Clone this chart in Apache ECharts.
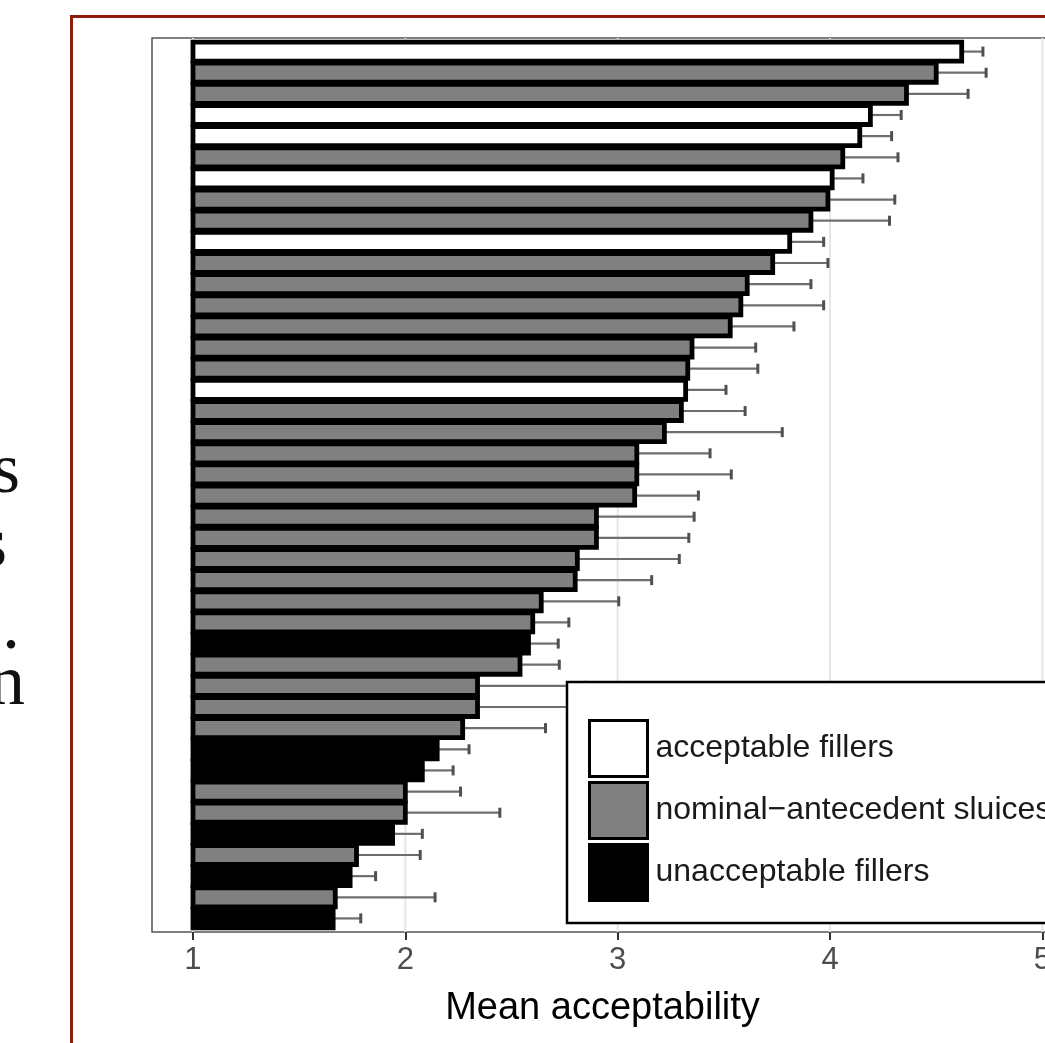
<!DOCTYPE html>
<html>
<head>
    <meta charset="utf-8">
    <title>Mean acceptability</title>
    <script src="https://cdn.jsdelivr.net/npm/echarts@6/dist/echarts.min.js"></script>
    <style>
        html, body { margin: 0; padding: 0; background: #fff; overflow: hidden; }
        #main { width: 1100px; height: 1043px; }
    </style>
</head>
<body>
<div id="main"></div>
<script type="text/javascript">
    // items, top to bottom
    var categories = ['1','2','3','4','5','6','7','8','9','10','11','12','13','14','15','16','17','18','19','20','21',
        '22','23','24','25','26','27','28','29','30','31','32','33','34','35','36','37','38','39','40','41','42'];
    // mean acceptability of each item
    var means = [4.62, 4.50, 4.36, 4.19, 4.14, 4.06, 4.01, 3.99, 3.91, 3.81, 3.73, 3.61, 3.58, 3.53, 3.35, 3.33,
        3.32, 3.30, 3.22, 3.09, 3.09, 3.08, 2.90, 2.90, 2.81, 2.80, 2.64, 2.60, 2.58, 2.54, 2.34, 2.34, 2.27, 2.15,
        2.08, 2.00, 2.00, 1.94, 1.77, 1.74, 1.67, 1.66];
    // end of the upper error bar
    var upper = [4.72, 4.735, 4.65, 4.335, 4.29, 4.32, 4.155, 4.305, 4.28, 3.97, 3.99, 3.91, 3.97, 3.83, 3.65, 3.66,
        3.51, 3.60, 3.775, 3.435, 3.535, 3.38, 3.36, 3.335, 3.29, 3.16, 3.005, 2.77, 2.72, 2.725, 2.85, 2.80, 2.66,
        2.30, 2.225, 2.26, 2.445, 2.08, 2.07, 1.86, 2.14, 1.79];
    // A = acceptable filler, N = nominal-antecedent sluice, U = unacceptable filler
    var groups = ['A','N','N','A','A','N','A','N','N','A','N','N','N','N','N','N','A','N','N','N','N',
        'N','N','N','N','N','N','N','U','N','N','N','N','U','U','N','N','U','N','U','N','U'];
    var groupKeys = ['A', 'N', 'U'];
    var groupNames = ['acceptable fillers', 'nominal\u2212antecedent sluices', 'unacceptable fillers'];
    var groupFills = ['#ffffff', '#808080', '#000000'];
    var xTicks = [1, 2, 3, 4, 5];

    var sans = '"Liberation Sans", Arial, Helvetica, sans-serif';
    var serif = '72px "Liberation Serif", "DejaVu Serif", serif';
    var myChart = echarts.init(document.getElementById('main'));

    function renderBar(params, api) {
        var cat = api.value(1);
        var p0 = api.coord([1, cat]);
        var p1 = api.coord([api.value(0), cat]);
        var h = api.size([0, 1])[1] * 0.9;
        return {
            type: 'rect',
            shape: {x: p0[0], y: p0[1] - h / 2, width: p1[0] - p0[0], height: h},
            style: {fill: api.visual('color'), stroke: '#000', lineWidth: 4.8}
        };
    }

    function renderErr(params, api) {
        var cat = api.value(1);
        var a = api.coord([api.value(0), cat]);
        var b = api.coord([api.value(2), cat]);
        return {
            type: 'group',
            children: [
                {type: 'line', shape: {x1: a[0], y1: a[1], x2: b[0], y2: b[1]},
                    style: {stroke: '#6e6e6e', lineWidth: 2.2}},
                {type: 'line', shape: {x1: b[0], y1: b[1] - 5, x2: b[0], y2: b[1] + 5},
                    style: {stroke: '#505050', lineWidth: 3}}
            ]
        };
    }

    // vertical grid lines, running the whole panel height
    function renderGridLine(params, api) {
        var p = api.coord([api.value(0), api.value(1)]);
        var cs = params.coordSys;
        return {
            type: 'line',
            shape: {x1: p[0], y1: cs.y - 3, x2: p[0], y2: cs.y + cs.height + 3},
            style: {stroke: '#e6e6e6', lineWidth: 2}
        };
    }

    var series = [{
        type: 'custom',
        name: 'grid',
        z: 1,
        silent: true,
        clip: false,
        renderItem: renderGridLine,
        data: xTicks.map(function (v) { return [v, categories[0]]; })
    }, {
        type: 'custom',
        name: 'err',
        z: 2,
        silent: true,
        renderItem: renderErr,
        encode: {x: [0, 2], y: 1},
        data: means.map(function (m, i) { return [m, categories[i], upper[i]]; })
    }];

    groupKeys.forEach(function (g, k) {
        var data = [];
        for (var i = 0; i < means.length; i++) {
            if (groups[i] === g) data.push([means[i], categories[i]]);
        }
        series.push({
            type: 'custom',
            name: groupNames[k],
            z: 3,
            renderItem: renderBar,
            itemStyle: {color: groupFills[k], borderColor: '#000', borderWidth: 3},
            encode: {x: 0, y: 1},
            data: data
        });
    });

    var option = {
        animation: false,
        backgroundColor: '#fff',
        grid: {
            left: 152, top: 41, width: 901, height: 888,
            show: false
        },
        xAxis: {
            type: 'value',
            min: 0.807,
            max: 5.05,
            offset: 3,
            name: 'Mean acceptability',
            nameLocation: 'middle',
            nameGap: 58,
            nameTextStyle: {fontFamily: sans, fontSize: 38, color: '#000'},
            axisLine: {show: false},
            splitLine: {show: false},
            axisTick: {show: true, customValues: xTicks, length: 8, lineStyle: {color: '#333', width: 2}},
            axisLabel: {customValues: xTicks, fontFamily: sans, fontSize: 31, color: '#4d4d4d', margin: 13}
        },
        yAxis: {
            type: 'category',
            data: categories,
            inverse: true,
            axisLine: {show: false},
            axisTick: {show: false},
            axisLabel: {show: false},
            splitLine: {show: false}
        },
        legend: {
            orient: 'vertical',
            left: 567,
            top: 682,
            padding: [37, 40, 21, 21],
            itemWidth: 58,
            itemHeight: 56,
            itemGap: 3,
            icon: 'rect',
            selectedMode: false,
            borderColor: '#000',
            borderWidth: 2.5,
            backgroundColor: '#fff',
            itemStyle: {borderColor: '#000', borderWidth: 3},
            textStyle: {fontFamily: sans, fontSize: 32, color: '#1a1a1a', padding: [0, 0, 0, 3]},
            data: groupNames
        },
        graphic: [
            // panel border
            {type: 'rect', z: 0, shape: {x: 152, y: 38, width: 901, height: 894},
                style: {fill: 'none', stroke: '#555', lineWidth: 1.5}},
            // frame of the page around the figure
            {type: 'line', shape: {x1: 71.5, y1: 16.5, x2: 71.5, y2: 1043}, style: {stroke: '#8c1d0c', lineWidth: 3}},
            {type: 'line', shape: {x1: 70, y1: 16.5, x2: 1100, y2: 16.5}, style: {stroke: '#8c1d0c', lineWidth: 3}},
            // cut-off ends of the text lines beside the figure
            {type: 'text', x: -8, y: 509, style: {text: 's', font: serif, fill: '#111', textVerticalAlign: 'bottom'}},
            {type: 'text', x: -21, y: 583, style: {text: 's', font: serif, fill: '#111', textVerticalAlign: 'bottom'}},
            {type: 'text', x: 2, y: 665, style: {text: '.', font: serif, fill: '#111', textVerticalAlign: 'bottom'}},
            {type: 'text', x: -11, y: 721, style: {text: 'n', font: serif, fill: '#111', textVerticalAlign: 'bottom'}}
        ],
        series: series
    };
    myChart.setOption(option);
</script>
</body>
</html>
